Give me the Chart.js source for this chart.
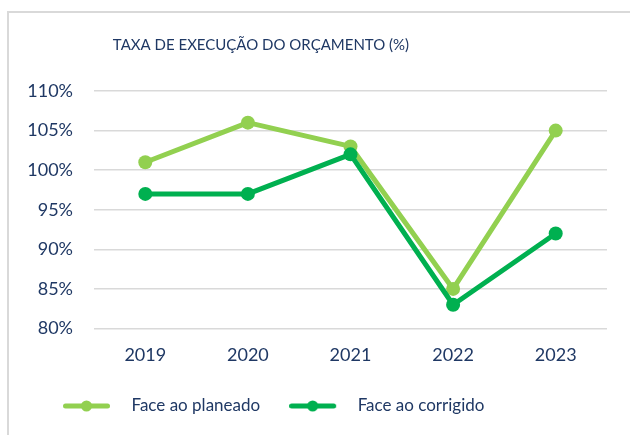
<!DOCTYPE html>
<html>
<head>
<meta charset="utf-8">
<script src="https://cdn.jsdelivr.net/npm/chart.js@4"></script>
<style>
html, body { margin: 0; padding: 0; background: #fff; overflow: hidden; }
#cornice {
    position: absolute; left: 7px; top: 11px; width: 640px; height: 440px;
    border-left: 2px solid #d9d9d9; border-top: 2px solid #d9d9d9;
}
#grafico { position: absolute; left: 0; top: 0; }
</style>
</head>
<body>
<div id="cornice"></div>
<canvas id="grafico" width="630" height="435"></canvas>
<script>
var anni = ["2019", "2020", "2021", "2022", "2023"];
var faceAoPlaneado = [101, 106, 103, 85, 105];
var faceAoCorrigido = [97, 97, 102, 83, 92];
var nomiSerie = ["Face ao planeado", "Face ao corrigido"];
var titolo = "TAXA DE EXECUÇÃO DO ORÇAMENTO (%)";

var coloreChiaro = "#92D050";
var coloreScuro = "#00B050";
var coloreTesto = "#1F3864";
var font = "Lato";

// campione della legenda: linea con pallino in mezzo
function creaCampione(colore){
    var c = document.createElement("canvas");
    c.width = 60;
    c.height = 16;
    var ctx = c.getContext("2d");
    ctx.strokeStyle = colore;
    ctx.lineWidth = 5;
    ctx.lineCap = "round";
    ctx.beginPath();
    ctx.moveTo(2.5, 8);
    ctx.lineTo(44.5, 8);
    ctx.stroke();
    ctx.fillStyle = colore;
    ctx.beginPath();
    ctx.arc(23.5, 8, 5.5, 0, Math.PI * 2);
    ctx.fill();
    return c;
}

// titolo spostato a sinistra come nell'originale
var pluginTitolo = {
    id: "titoloSpostato",
    afterDraw: function(chart){
        var ctx = chart.ctx;
        ctx.save();
        ctx.font = "15px " + font;
        ctx.fillStyle = coloreTesto;
        ctx.textAlign = "center";
        ctx.textBaseline = "middle";
        ctx.fillText(titolo, 261, 45);
        ctx.restore();
    }
};

// la legenda parte un po' piu' a destra del margine del grafico
var pluginLegenda = {
    id: "spostaLegenda",
    afterLayout: function(chart){
        if (chart.legend){
            chart.legend.left += 14;
            chart.legend.right += 14;
        }
    }
};

var chart;

document.addEventListener("DOMContentLoaded", () => {
    const context = document.getElementById("grafico").getContext("2d");

    chart = new Chart(context, {
        type: 'line',
        data: {
            labels: anni,
            datasets: [{
                label: nomiSerie[0],
                data: faceAoPlaneado,
                borderColor: coloreChiaro,
                backgroundColor: coloreChiaro,
                borderWidth: 5,
                pointRadius: 7,
                pointHoverRadius: 7,
                pointBorderWidth: 0,
                borderCapStyle: 'round',
                borderJoinStyle: 'round',
                tension: 0,
                order: 1
            }, {
                label: nomiSerie[1],
                data: faceAoCorrigido,
                borderColor: coloreScuro,
                backgroundColor: coloreScuro,
                borderWidth: 5,
                pointRadius: 7,
                pointHoverRadius: 7,
                pointBorderWidth: 0,
                borderCapStyle: 'round',
                borderJoinStyle: 'round',
                tension: 0,
                order: 0
            }]
        },
        options: {
            responsive: false,
            animation: false,
            layout: {
                padding: { left: 20, right: 23, top: 91, bottom: 10.5 }
            },
            scales: {
                x: {
                    offset: true,
                    grid: { display: false, drawTicks: false },
                    border: { display: false },
                    ticks: {
                        color: coloreTesto,
                        font: { family: font, size: 18 },
                        padding: 16,
                        maxRotation: 0
                    },
                    afterFit: function(scale){ scale.height = 40; }
                },
                y: {
                    min: 80,
                    max: 110,
                    border: { display: false },
                    grid: { color: "#d9d9d9", lineWidth: 1.5, drawTicks: false },
                    ticks: {
                        stepSize: 5,
                        color: coloreTesto,
                        font: { family: font, size: 18 },
                        padding: 21,
                        callback: function(v){ return v + "%"; }
                    },
                    afterFit: function(scale){ scale.width = 74; }
                }
            },
            plugins: {
                title: { display: false },
                tooltip: { enabled: false },
                legend: {
                    position: 'bottom',
                    align: 'start',
                    labels: {
                        usePointStyle: true,
                        pointStyleWidth: 60,
                        boxHeight: 17,
                        padding: 29,
                        color: coloreTesto,
                        font: { family: font, size: 17 },
                        sort: function(a, b){ return a.datasetIndex - b.datasetIndex; },
                        generateLabels: function(ch){
                            var voci = Chart.defaults.plugins.legend.labels.generateLabels(ch);
                            voci.forEach(function(v){
                                v.pointStyle = creaCampione(ch.data.datasets[v.datasetIndex].borderColor);
                            });
                            return voci;
                        }
                    }
                }
            }
        },
        plugins: [pluginTitolo, pluginLegenda]
    });
});
</script>
</body>
</html>
